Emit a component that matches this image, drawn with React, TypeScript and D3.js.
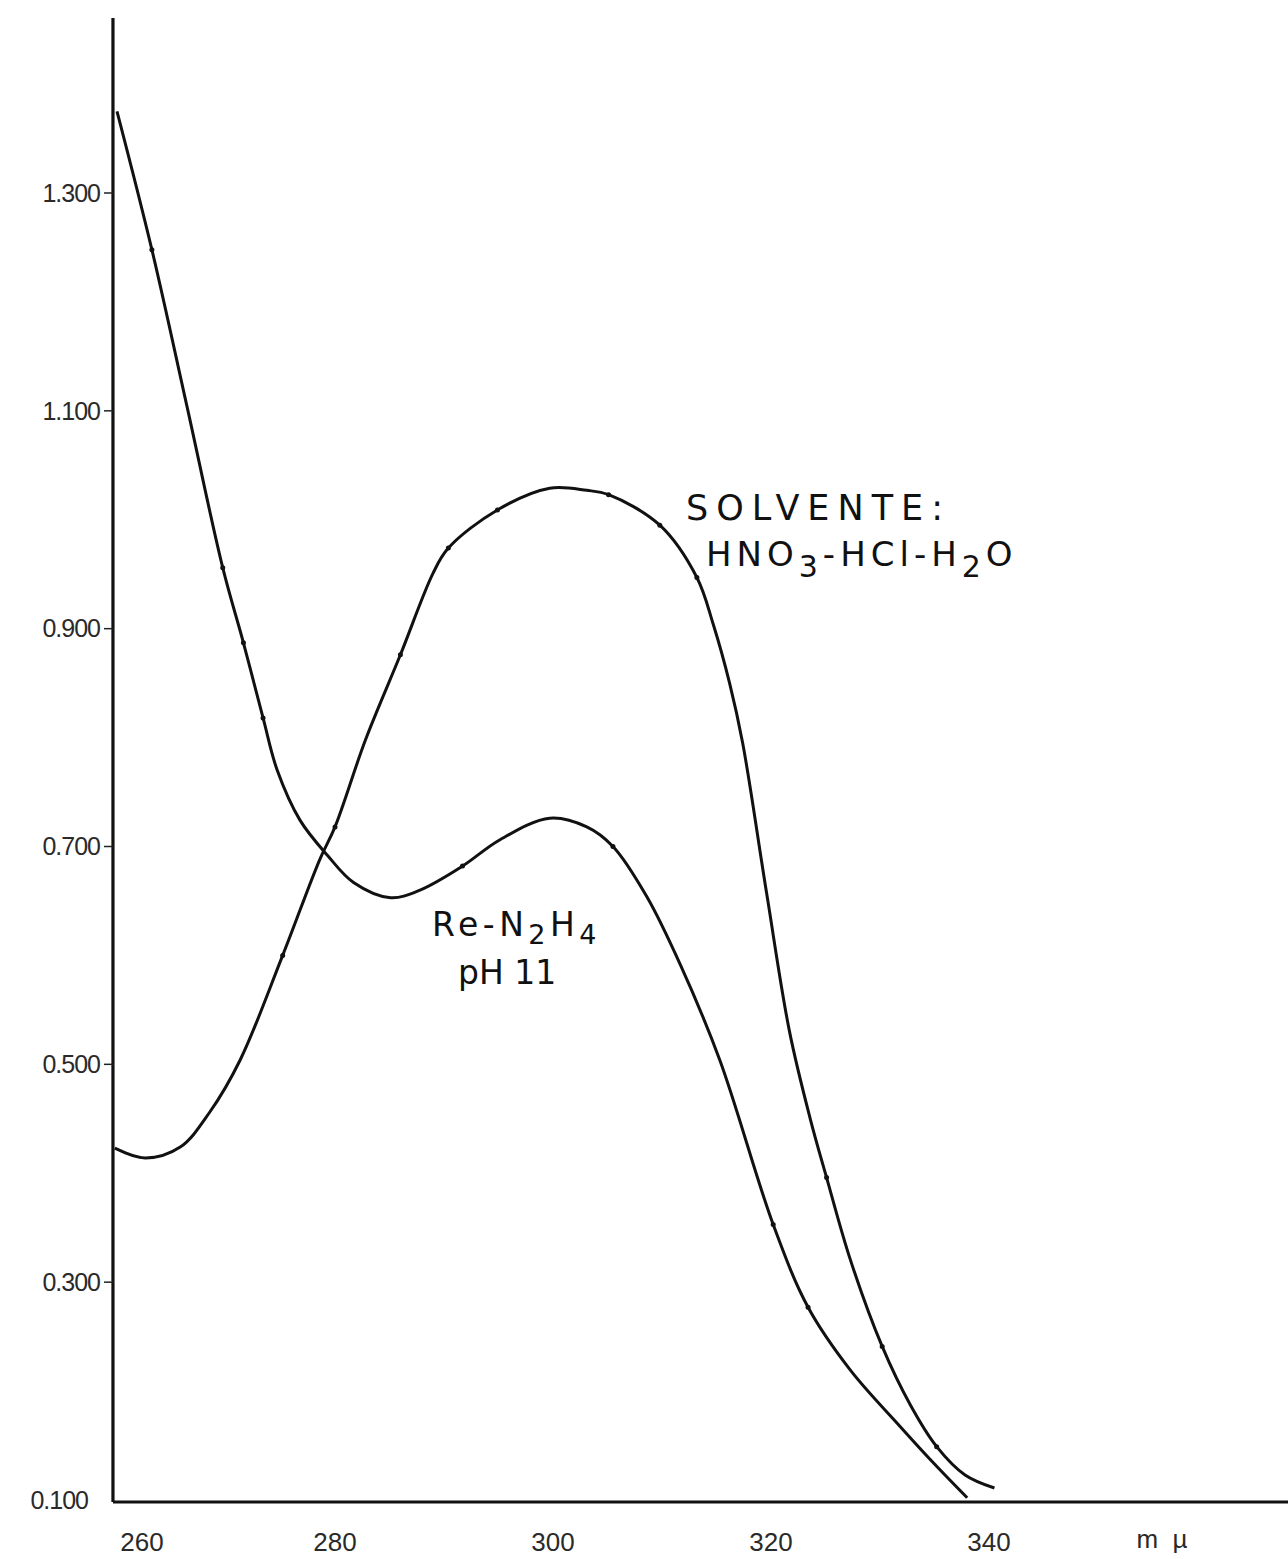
import React from 'react';
import * as d3 from 'd3';

// Re-N2H4 pH 11 curve
const reWavelength = [260.0, 263.2, 266.4, 269.7, 271.6, 273.4, 274.7, 276.8, 279.3, 281.7, 285.1, 287.8, 291.7, 295.1, 299.7, 303.1, 305.5, 308.6, 311.7, 315.3, 320.2, 323.4, 327.3, 331.8, 335.0, 338.0];
const reAbsorbance = [1.375, 1.248, 1.105, 0.956, 0.887, 0.818, 0.770, 0.724, 0.692, 0.667, 0.653, 0.660, 0.682, 0.706, 0.726, 0.718, 0.700, 0.654, 0.591, 0.504, 0.353, 0.277, 0.219, 0.168, 0.133, 0.102];
const reMarked = [1, 3, 4, 5, 12, 16, 20, 21];

// Solvente HNO3-HCl-H2O curve
const solWavelength = [259.8, 262.6, 265.8, 268.5, 271.3, 275.2, 278.6, 280.0, 282.8, 286.0, 289.0, 290.4, 294.9, 299.7, 303.1, 305.1, 309.8, 313.2, 314.7, 316.2, 317.4, 319.6, 321.7, 323.6, 325.1, 327.3, 330.2, 332.8, 335.2, 337.8, 340.5];
const solAbsorbance = [0.423, 0.414, 0.424, 0.456, 0.504, 0.600, 0.688, 0.718, 0.798, 0.876, 0.951, 0.974, 1.009, 1.029, 1.027, 1.023, 0.995, 0.947, 0.904, 0.850, 0.795, 0.657, 0.530, 0.450, 0.396, 0.320, 0.241, 0.187, 0.149, 0.123, 0.111];
const solMarked = [5, 7, 9, 11, 12, 15, 16, 17, 24, 26, 28];

const yTicks = [0.1, 0.3, 0.5, 0.7, 0.9, 1.1, 1.3];
const yTickLabels = ['0.100', '0.300', '0.500', '0.700', '0.900', '1.100', '1.300'];
const xTicks = [260, 280, 300, 320, 340];
const xTickLabels = ['260', '280', '300', '320', '340'];
const xUnit = 'm  µ';

const W = 1288;
const H = 1559;

export default function App() {
  const x = d3.scaleLinear().domain([260, 340]).range([117, 989]);
  const y = d3.scaleLinear().domain([0.1, 1.3]).range([1500, 193]);
  const axisX0 = x(259.63);
  const axisY0 = 1502;

  const line = d3
    .line<[number, number]>()
    .x((d) => x(d[0]))
    .y((d) => y(d[1]))
    .curve(d3.curveCatmullRom.alpha(0.5));

  const reData: [number, number][] = reWavelength.map((w, i) => [w, reAbsorbance[i]]);
  const solData: [number, number][] = solWavelength.map((w, i) => [w, solAbsorbance[i]]);

  const font = "'Liberation Sans', 'DejaVu Sans', sans-serif";
  const labFont = "'DejaVu Sans', 'Liberation Sans', sans-serif";

  return (
    <svg
      width={W}
      height={H}
      style={{ position: 'absolute', left: 0, top: 0, background: '#fff' }}
    >
      <rect x={0} y={0} width={W} height={H} fill="#fff" />
      {/* axes */}
      <line x1={axisX0} y1={18} x2={axisX0} y2={axisY0} stroke="#111" strokeWidth={3.2} />
      <line x1={axisX0} y1={axisY0} x2={W} y2={axisY0} stroke="#111" strokeWidth={3.2} />

      {/* y ticks */}
      {yTicks.map((t, i) => (
        <g key={'y' + i}>
          {i > 0 && (
            <line x1={axisX0 - 9} x2={axisX0} y1={y(t)} y2={y(t)} stroke="#222" strokeWidth={1.5} />
          )}
          <text
            x={axisX0 - (i > 0 ? 13 : 25)}
            y={y(t)}
            dy="0.35em"
            textAnchor="end"
            fontFamily={font}
            fontSize={25}
            fill="#2a2a2a"
            letterSpacing={-1}
          >
            {yTickLabels[i]}
          </text>
        </g>
      ))}

      {/* x tick labels */}
      {xTicks.map((t, i) => (
        <text
          key={'x' + i}
          x={x(t) + (i === 0 ? 25 : 0)}
          y={1551}
          textAnchor="middle"
          fontFamily={font}
          fontSize={26}
          fill="#2a2a2a"
        >
          {xTickLabels[i]}
        </text>
      ))}
      <text x={1162} y={1548} textAnchor="middle" fontFamily={font} fontSize={26} fill="#2a2a2a" xmlSpace="preserve">
        {xUnit}
      </text>

      {/* curves */}
      <path d={line(reData) || ''} fill="none" stroke="#111" strokeWidth={3} />
      <path d={line(solData) || ''} fill="none" stroke="#111" strokeWidth={3} />

      {reMarked.map((idx) => (
        <circle key={'rm' + idx} cx={x(reWavelength[idx])} cy={y(reAbsorbance[idx])} r={2.5} fill="#111" />
      ))}
      {solMarked.map((idx) => (
        <circle key={'sm' + idx} cx={x(solWavelength[idx])} cy={y(solAbsorbance[idx])} r={2.5} fill="#111" />
      ))}

      {/* annotations */}
      <text x={686} y={520} fontFamily={labFont} fontSize={35} fill="#111" letterSpacing={8}>
        SOLVENTE:
      </text>
      <text x={706} y={566} fontFamily={labFont} fontSize={34} fill="#111" letterSpacing={5}>
        HNO
        <tspan fontSize={30} dy={11}>3</tspan>
        <tspan dy={-11}>-HCl-H</tspan>
        <tspan fontSize={30} dy={11}>2</tspan>
        <tspan dy={-11}>O</tspan>
      </text>
      <text x={432} y={936} fontFamily={labFont} fontSize={33} fill="#111" letterSpacing={4.5}>
        Re-N
        <tspan fontSize={27} dy={8}>2</tspan>
        <tspan dy={-8}>H</tspan>
        <tspan fontSize={27} dy={8}>4</tspan>
      </text>
      <text x={458} y={984} fontFamily={labFont} fontSize={33} fill="#111" letterSpacing={0}>
        pH 11
      </text>
    </svg>
  );
}
